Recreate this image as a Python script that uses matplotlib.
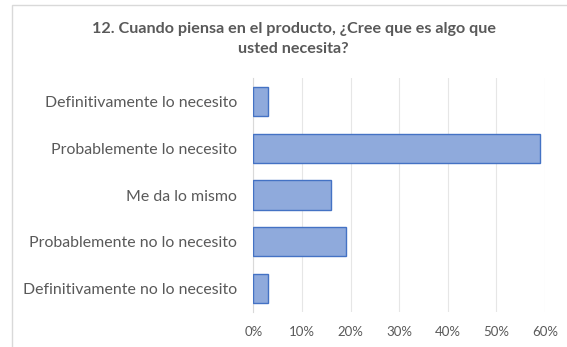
import matplotlib.pyplot as plt
from matplotlib.patches import Rectangle
from matplotlib.ticker import FuncFormatter

categories = [
    "Definitivamente lo necesito",
    "Probablemente lo necesito",
    "Me da lo mismo",
    "Probablemente no lo necesito",
    "Definitivamente no lo necesito",
]
shares = [0.03, 0.59, 0.16, 0.19, 0.03]
title = "12. Cuando piensa en el producto, ¿Cree que es algo que\nusted necesita?"

text_grey = "#595959"
plt.rcParams["font.family"] = ["Lato", "DejaVu Sans"]


def main():
    fig = plt.figure(figsize=(5.67, 3.47), dpi=100)
    ax = fig.add_axes([0.447, 0.101, 0.514, 0.674])

    # chart frame, cut off on the right and bottom
    fig.patches.append(Rectangle((12 / 567, -0.1), 1.2, 1 - 5.5 / 347 + 0.1,
                                 transform=fig.transFigure, fill=False,
                                 edgecolor="#D9D9D9", linewidth=1.0))

    ypos = list(range(len(categories)))
    ax.barh(ypos, shares, height=0.625, color="#8FAADC",
            edgecolor="#4472C4", linewidth=1.0, zorder=3)
    ax.set_yticks(ypos)
    ax.set_yticklabels(categories, fontsize=11.4, color=text_grey)
    ax.set_ylim(len(categories) - 0.5, -0.5)

    ax.set_xlim(0, 0.6)
    ax.set_xticks([i / 10 for i in range(7)])
    ax.xaxis.set_major_formatter(FuncFormatter(lambda v, _: f"{v * 100:.0f}%"))
    ax.tick_params(axis="x", labelsize=9.5, colors=text_grey, length=0, pad=10)
    ax.tick_params(axis="y", length=0, pad=12)
    ax.grid(axis="x", color="#E6E6E6", linewidth=0.8, zorder=0)

    for side in ["top", "right", "bottom"]:
        ax.spines[side].set_visible(False)
    ax.spines["left"].set_color("#D9D9D9")

    fig.text(0.518, 1 - 39 / 347, title, ha="center", va="center",
             fontsize=11.6, fontweight="bold", color=text_grey, linespacing=1.5)

    fig.savefig("out.png", dpi=100)
    plt.close(fig)


if __name__ == "__main__":
    main()
